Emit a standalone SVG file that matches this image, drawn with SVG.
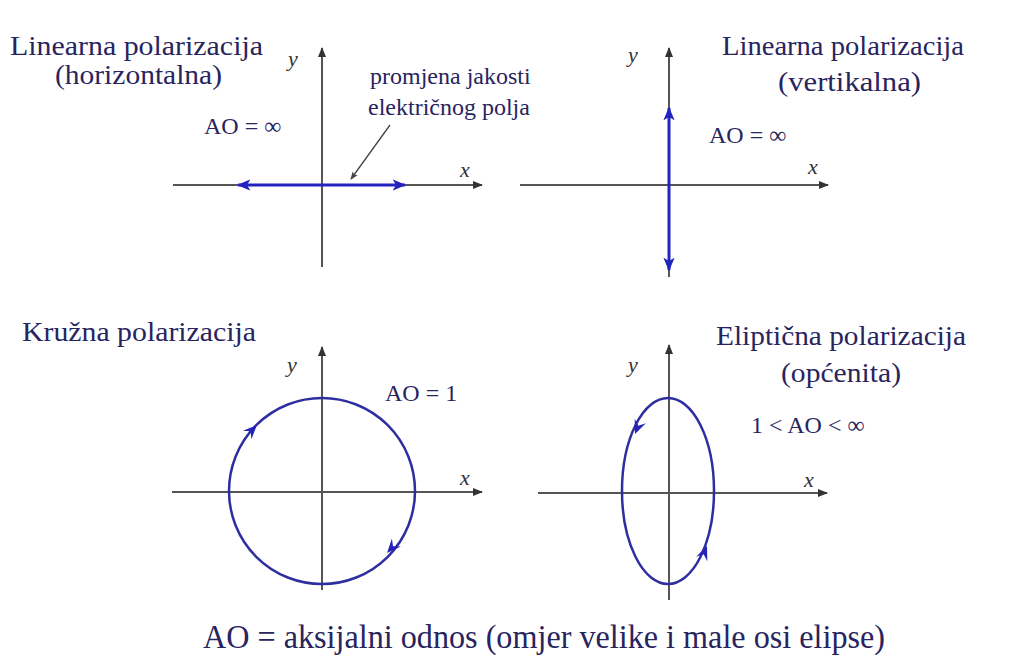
<svg xmlns="http://www.w3.org/2000/svg" width="1011" height="659" viewBox="0 0 1011 659">
<defs>
<style>
.t{font-family:"Liberation Serif","Times New Roman",serif;fill:#28245e;font-size:27px}
.s{font-family:"Liberation Serif","Times New Roman",serif;fill:#28245e;font-size:24px}
.v{font-family:"Liberation Serif","Times New Roman",serif;fill:#333;font-size:22px;font-style:italic}
.ax{stroke:#555;stroke-width:2;fill:none}
.bl{stroke:#2323c0;stroke-width:3;fill:none}
.cr{stroke:#2e2ea0;stroke-width:2.5;fill:none}
.ah{fill:#2323b8}
</style>
<marker id="axa" viewBox="0 0 10 10" refX="9" refY="5" markerWidth="5" markerHeight="5" orient="auto">
<path d="M0,1 L10,5 L0,9 z" fill="#333"/>
</marker>
<marker id="bla" viewBox="0 0 12 10" refX="11" refY="5" markerWidth="4.5" markerHeight="4" orient="auto-start-reverse">
<path d="M0,0 L12,5 L0,10 L3,5 z" fill="#2323c0"/>
</marker>
<marker id="pa" viewBox="0 0 10 10" refX="9" refY="5" markerWidth="6" markerHeight="6" orient="auto">
<path d="M0,1 L10,5 L0,9 L2,5 z" fill="#444"/>
</marker>
<path id="hd" d="M0,0 L-14,-6 L-9,0 L-14,6 z"/>
</defs>
<rect width="1011" height="659" fill="#fff"/>

<g id="panel-horizontal">
<line class="ax" x1="173" y1="185" x2="482" y2="185" marker-end="url(#axa)"/>
<line class="ax" x1="322" y1="267" x2="322" y2="48" marker-end="url(#axa)"/>
<line class="bl" x1="238" y1="185" x2="405" y2="185" marker-start="url(#bla)" marker-end="url(#bla)"/>
<line x1="390" y1="125" x2="351" y2="179" stroke="#444" stroke-width="1.3" marker-end="url(#pa)"/>
<text class="t" x="10" y="55" textLength="253" lengthAdjust="spacingAndGlyphs">Linearna polarizacija</text>
<text class="t" x="55" y="84" textLength="167" lengthAdjust="spacingAndGlyphs">(horizontalna)</text>
<text class="s" x="204" y="134">AO = ∞</text>
<text class="s" x="370" y="84">promjena jakosti</text>
<text class="s" x="368" y="115">električnog polja</text>
<text class="v" x="288" y="66">y</text>
<text class="v" x="460" y="177">x</text>
</g>

<g id="panel-vertical">
<line class="ax" x1="520" y1="185" x2="828" y2="185" marker-end="url(#axa)"/>
<line class="ax" x1="669" y1="277" x2="669" y2="48" marker-end="url(#axa)"/>
<line class="bl" x1="669" y1="108" x2="669" y2="270" marker-start="url(#bla)" marker-end="url(#bla)"/>
<text class="t" x="722" y="55" textLength="242" lengthAdjust="spacingAndGlyphs">Linearna polarizacija</text>
<text class="t" x="778" y="91" textLength="143" lengthAdjust="spacingAndGlyphs">(vertikalna)</text>
<text class="s" x="709" y="143">AO = ∞</text>
<text class="v" x="628" y="62">y</text>
<text class="v" x="808" y="174">x</text>
</g>

<g id="panel-circular">
<line class="ax" x1="172" y1="492" x2="482" y2="492" marker-end="url(#axa)"/>
<line class="ax" x1="322" y1="590" x2="322" y2="347" marker-end="url(#axa)"/>
<circle class="cr" cx="322" cy="491" r="93"/>
<use href="#hd" class="ah" transform="translate(257,425) rotate(-45)"/>
<use href="#hd" class="ah" transform="translate(387,553) rotate(132)"/>
<text class="t" x="22" y="341" textLength="234" lengthAdjust="spacingAndGlyphs">Kružna polarizacija</text>
<text class="s" x="385" y="401">AO = 1</text>
<text class="v" x="287" y="372">y</text>
<text class="v" x="460" y="485">x</text>
</g>

<g id="panel-elliptical">
<line class="ax" x1="538" y1="493" x2="827" y2="493" marker-end="url(#axa)"/>
<line class="ax" x1="669" y1="600" x2="669" y2="345" marker-end="url(#axa)"/>
<ellipse class="cr" cx="668" cy="491" rx="46" ry="93"/>
<use href="#hd" class="ah" transform="translate(635,434) rotate(112)"/>
<use href="#hd" class="ah" transform="translate(707,546) rotate(-68)"/>
<text class="t" x="716" y="345" textLength="250" lengthAdjust="spacingAndGlyphs">Eliptična polarizacija</text>
<text class="t" x="781" y="382" textLength="120" lengthAdjust="spacingAndGlyphs">(općenita)</text>
<text class="s" x="751" y="433">1 &lt; AO &lt; ∞</text>
<text class="v" x="628" y="372">y</text>
<text class="v" x="804" y="487">x</text>
</g>

<text class="t" x="203" y="648" textLength="682" lengthAdjust="spacingAndGlyphs" style="font-size:33px">AO = aksijalni odnos (omjer velike i male osi elipse)</text>
</svg>
